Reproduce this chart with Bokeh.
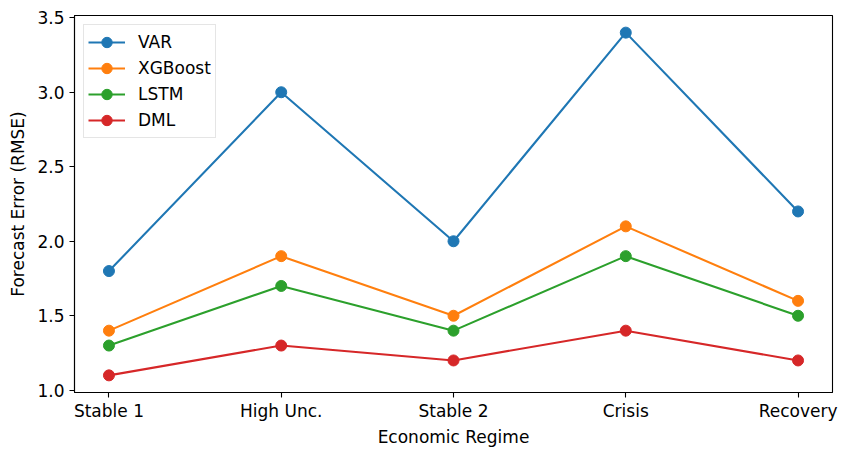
from bokeh.plotting import figure
from bokeh.models import Range1d, FixedTicker, Legend, LegendItem
from bokeh.embed import file_html
from bokeh.resources import INLINE

regimes = ["Stable 1", "High Unc.", "Stable 2", "Crisis", "Recovery"]
var_vals = [1.8, 3.0, 2.0, 3.4, 2.2]
xgb_vals = [1.4, 1.9, 1.5, 2.1, 1.6]
lstm_vals = [1.3, 1.7, 1.4, 1.9, 1.5]
dml_vals = [1.1, 1.3, 1.2, 1.4, 1.2]
series_names = ["VAR", "XGBoost", "LSTM", "DML"]
colors = ["#1f77b4", "#ff7f0e", "#2ca02c", "#d62728"]
y_ticks = [1.0, 1.5, 2.0, 2.5, 3.0, 3.5]

FONT = "DejaVu Sans"
FS = "17px"
xs = list(range(len(regimes)))

p = figure(width=840, height=450, output_backend="svg", toolbar_location=None,
           x_range=Range1d(-0.2, 4.2), y_range=Range1d(0.985, 3.515),
           min_border_left=74, min_border_top=15, min_border_right=8, min_border_bottom=58)
p.background_fill_color = "white"
p.border_fill_color = "white"
p.xgrid.visible = False
p.ygrid.visible = False
p.outline_line_color = "black"
p.outline_line_width = 1.1

items = []
for name, vals, c in zip(series_names, [var_vals, xgb_vals, lstm_vals, dml_vals], colors):
    l = p.line(xs, vals, line_color=c, line_width=2.1)
    s = p.scatter(xs, vals, size=11, fill_color=c, line_color=c, marker="circle")
    items.append(LegendItem(label=name, renderers=[l, s]))

p.xaxis.ticker = FixedTicker(ticks=xs)
p.xaxis.major_label_overrides = {i: r for i, r in enumerate(regimes)}
p.yaxis.ticker = FixedTicker(ticks=y_ticks)
p.yaxis.major_label_overrides = {t: f"{t:.1f}" for t in y_ticks}

for ax in (p.xaxis[0], p.yaxis[0]):
    ax.major_tick_in = 0
    ax.major_tick_out = 5
    ax.minor_tick_line_color = None
    ax.axis_line_color = "black"
    ax.axis_line_width = 1.1
    ax.major_tick_line_color = "black"
    ax.major_tick_line_width = 1.1
    ax.major_label_text_font = FONT
    ax.major_label_text_font_size = FS
    ax.major_label_text_color = "black"
    ax.axis_label_text_font = FONT
    ax.axis_label_text_font_size = FS
    ax.axis_label_text_font_style = "normal"
    ax.axis_label_text_color = "black"

p.xaxis.axis_label = "Economic Regime"
p.yaxis.axis_label = "Forecast Error (RMSE)"
p.xaxis.major_label_standoff = 3
p.xaxis.axis_label_standoff = 3
p.yaxis.major_label_standoff = 5
p.yaxis.axis_label_standoff = 6

legend = Legend(items=items, location="top_left")
legend.margin = 9
legend.padding = 4
legend.spacing = 0
legend.label_height = 20
legend.glyph_height = 26
legend.glyph_width = 37
legend.label_standoff = 13
legend.label_text_font = FONT
legend.label_text_font_size = FS
legend.label_text_color = "black"
legend.border_line_color = "#cccccc"
legend.border_line_width = 1
legend.background_fill_alpha = 0.8
p.add_layout(legend)

open("out.html", "w").write(file_html(p, INLINE))
